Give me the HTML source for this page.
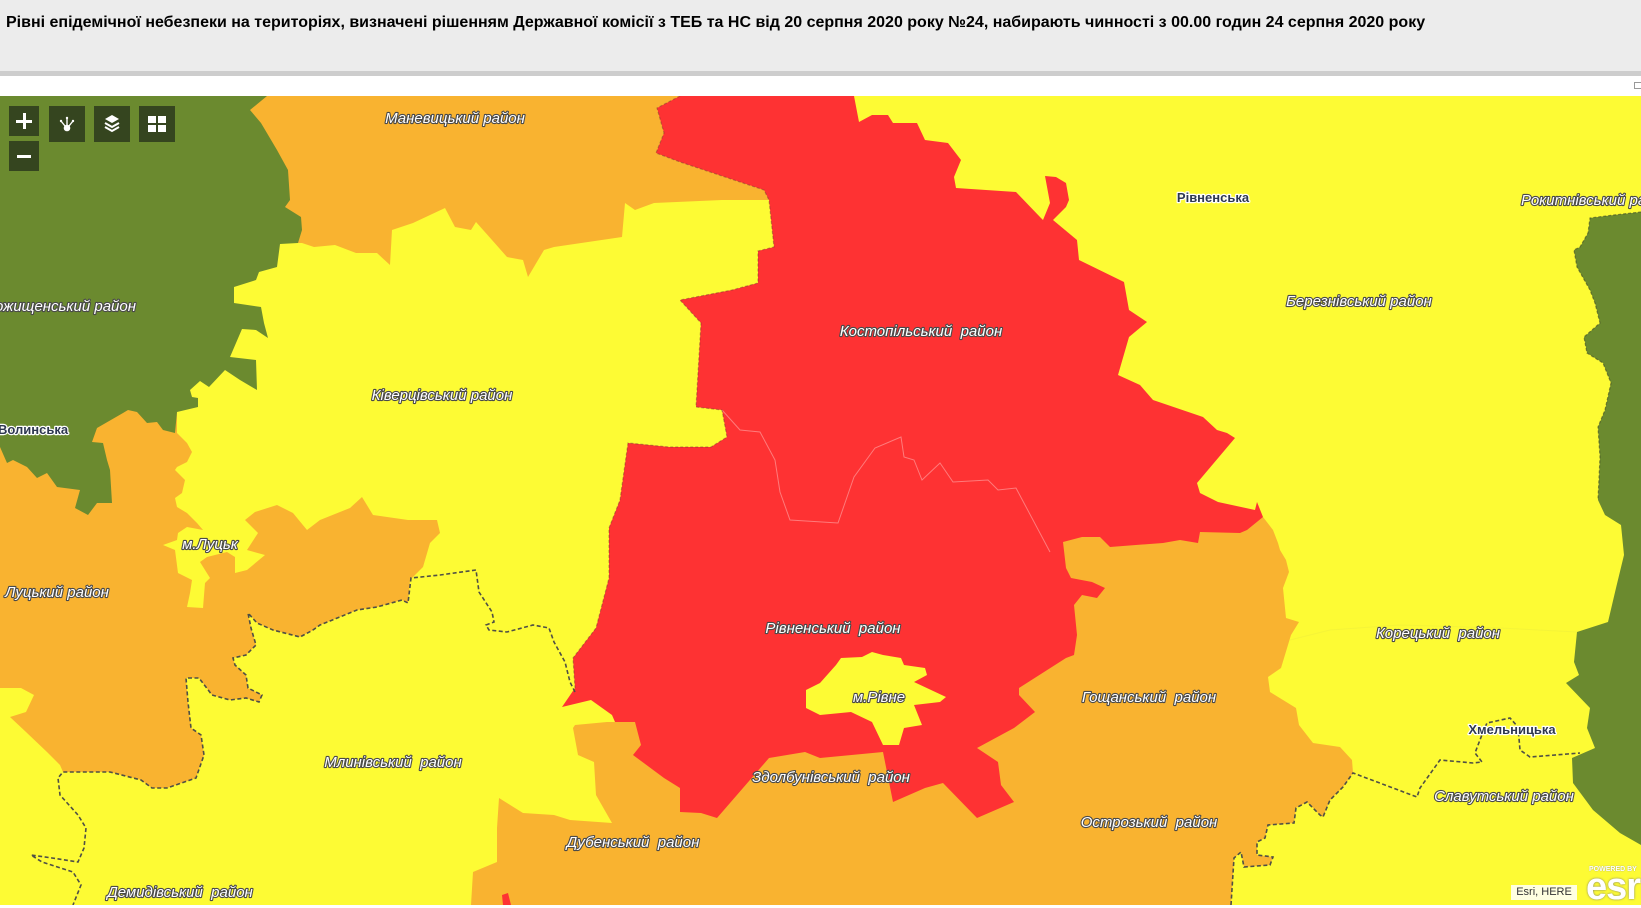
<!DOCTYPE html>
<html><head><meta charset="utf-8">
<style>
html,body{margin:0;padding:0;}
body{width:1641px;height:905px;position:relative;overflow:hidden;background:#fff;font-family:"Liberation Sans",Arial,sans-serif;}
#hdr{position:absolute;left:0;top:0;width:1641px;height:71px;background:#ececec;}
#hdrline{position:absolute;left:0;top:71px;width:1641px;height:5px;background:#cdcdcd;}
#title{position:absolute;left:6px;top:14px;font-size:16px;line-height:18px;font-weight:bold;color:#000;white-space:nowrap;}
#mapsvg{position:absolute;left:0;top:96px;}
.btn{position:absolute;background:#35451f;}
.lbl{font-family:"Liberation Sans",Arial,sans-serif;font-style:italic;font-size:15px;fill:#fff;stroke:#4a4a4a;stroke-width:2.2px;paint-order:stroke;stroke-linejoin:round;text-anchor:middle;white-space:pre;}
.obl{font-family:"Liberation Sans",Arial,sans-serif;font-weight:bold;font-size:13px;fill:#2e3850;stroke:#fff;stroke-width:2.4px;paint-order:stroke;stroke-linejoin:round;text-anchor:middle;}
</style></head><body>
<div id="hdr"></div>
<div id="hdrline"></div>
<div id="title">Рівні епідемічної небезпеки на територіях, визначені рішенням Державної комісії з ТЕБ та НС від 20 серпня 2020 року №24, набирають чинності з 00.00 годин 24 серпня 2020 року</div>
<div style="position:absolute;left:1634px;top:82px;width:7px;height:7px;border:1px solid #999;border-right:none;box-sizing:border-box;"></div>

<svg id="mapsvg" width="1641" height="809" viewBox="0 96 1641 809" xmlns="http://www.w3.org/2000/svg">
<rect x="0" y="96" width="1641" height="809" fill="#fdfb34"/>
<!-- orange top -->
<polygon fill="#f9b330" points="250,96 680,96 657,108 664,133 656,153 680,162 743,183 764,190 769,200 722,200 654,203 635,210 625,203 622,237 554,247 544,250 528,277 523,260 507,257 492,240 476,222 471,230 455,227 445,208 413,223 392,230 390,265 377,253 356,253 335,245 314,247 302,243 250,243"/>
<!-- orange Lutsk -->
<polygon fill="#f9b330" points="177,412 177,433 187,443 192,452 187,462 177,467 175,470 185,480 182,493 175,498 177,507 187,513 197,523 203,530 187,527 178,533 177,540 163,545 175,550 178,573 192,580 190,593 187,607 203,608 205,583 210,578 200,562 207,557 227,552 235,557 235,573 247,570 265,555 247,550 258,533 245,520 255,512 277,505 293,513 307,530 320,520 350,508 362,497 373,515 408,520 437,520 440,533 430,543 423,567 410,580 408,603 402,600 377,607 357,610 320,625 313,630 300,637 273,630 257,623 248,613 251,628 256,645 246,655 233,658 235,665 246,675 248,688 262,695 259,702 246,698 230,700 212,695 199,678 186,678 188,702 191,728 201,735 204,755 196,778 167,788 152,788 141,780 110,772 63,772 60,765 47,752 26,732 10,717 26,712 34,695 21,688 0,688 0,440 120,400 177,400"/>
<!-- orange lower -->
<polygon fill="#f9b330" points="575,725 573,728 578,755 594,762 596,795 612,823 570,820 554,815 523,813 499,798 497,828 497,862 473,872 471,905 1231,905 1234,858 1241,852 1244,867 1270,865 1273,857 1257,855 1257,842 1265,838 1268,825 1294,823 1296,808 1307,802 1320,815 1323,817 1330,800 1343,787 1353,773 1352,760 1340,747 1313,743 1299,725 1296,708 1270,692 1268,677 1281,668 1291,635 1299,622 1286,618 1283,588 1289,572 1286,560 1280,550 1278,543 1273,530 1263,517 1200,500 820,600 640,722 607,722"/>
<!-- green left -->
<polygon fill="#6b8a2f" points="0,96 267,96 250,110 261,123 277,150 288,170 290,200 285,207 301,217 302,230 298,243 280,244 277,267 259,272 256,280 234,287 234,303 261,307 264,323 268,338 256,330 242,329 230,357 256,360 257,390 240,380 225,370 209,387 200,381 190,390 192,397 198,398 198,407 177,412 175,433 163,430 157,422 147,423 137,412 128,410 123,413 97,428 92,442 103,443 107,460 110,470 112,503 97,503 88,515 75,508 80,490 57,487 47,473 37,478 27,467 13,460 7,463 0,447"/>
<!-- green right -->
<polygon fill="#6b8a2f" points="1641,212 1614,215 1590,218 1588,233 1580,247 1574,250 1577,267 1590,290 1595,303 1600,323 1584,337 1587,353 1603,363 1611,383 1605,410 1598,427 1600,457 1598,500 1605,515 1621,525 1624,555 1616,588 1608,622 1577,632 1574,662 1579,675 1566,683 1590,708 1587,728 1595,748 1572,758 1573,783 1593,810 1620,833 1641,845"/>
<!-- red -->
<polygon fill="#fe3233" points="680,96 657,108 664,133 656,153 680,162 743,183 764,190 769,200 774,247 758,251 758,283 732,290 680,300 701,323 696,407 722,410 727,437 711,447 669,447 628,443 620,500 609,528 609,578 596,628 573,658 575,688 562,707 591,700 612,715 615,722 635,722 641,745 633,755 664,778 680,788 680,812 701,813 717,818 743,788 769,758 805,752 820,758 883,752 893,802 925,788 943,783 977,818 1014,802 1001,785 998,762 977,748 1014,728 1035,712 1019,695 1019,688 1066,658 1074,655 1077,635 1074,605 1082,595 1097,598 1105,588 1092,582 1071,578 1066,568 1063,542 1082,537 1100,537 1110,547 1163,543 1180,540 1198,543 1200,532 1240,533 1247,530 1263,517 1257,502 1255,510 1218,502 1210,498 1200,493 1197,483 1235,438 1227,433 1217,430 1203,417 1153,400 1140,385 1118,375 1129,337 1147,322 1129,310 1124,282 1079,260 1077,240 1053,220 1066,207 1069,200 1066,183 1056,177 1045,176 1050,203 1043,220 1040,217 1016,192 956,188 954,177 961,160 948,143 925,140 917,123 893,123 888,115 872,115 859,122 854,96"/>
<polygon fill="#fe3233" points="502,895 508,893 511,905 503,905"/>
<!-- Rivne city -->
<polygon fill="#fdfb34" points="806,690 820,683 836,665 841,658 862,657 872,652 883,655 901,658 904,665 925,668 927,675 914,682 946,697 940,702 914,705 922,725 904,728 899,745 883,745 872,722 851,712 820,715 806,708"/>
<!-- faint internal lines -->
<polyline fill="none" stroke="#ff9a9a" stroke-width="1" opacity="0.7" points="722,410 740,430 760,432 775,460 780,492 790,520 838,523 846,500 854,477 875,448 901,437 904,457 914,460 922,480 940,463 953,482 988,480 998,490 1016,488 1050,552"/>
<polyline fill="none" stroke="#f2f23a" stroke-width="1" opacity="0.8" points="1290,640 1330,630 1400,625 1500,628 1577,632"/>
<!-- dashed oblast borders -->
<g fill="none" stroke="#4f4f45" stroke-width="1.6" stroke-dasharray="4,2.5">
<polyline points="575,692 570,682 565,662 554,642 549,628 533,625 507,632 489,630 486,625 494,622 492,612 479,592 476,570 440,575 411,578 408,603 402,600 377,607 357,610 320,625 313,630 300,637 273,630 257,623 248,613 251,628 256,645 246,655 233,658 235,665 246,675 248,688 262,695 259,702 246,698 230,700 212,695 199,678 186,678 188,702 191,728 201,735 204,755 196,778 167,788 152,788 141,780 110,772 63,772 58,778 60,795 78,815 86,828 84,848 78,862 52,858 31,855 42,862 73,872 81,885 73,905"/>
<polyline points="1231,905 1234,858 1241,852 1244,867 1270,865 1273,857 1257,855 1257,842 1265,838 1268,825 1294,823 1296,808 1307,802 1320,815 1323,817 1330,800 1343,787 1353,773 1385,785 1417,797 1420,788 1440,760 1473,763 1482,762 1475,753 1483,732 1487,723 1510,718 1518,727 1520,750 1530,757 1580,753"/>
</g>
<g fill="none" stroke="#6a3030" stroke-width="1.2" stroke-dasharray="3,2" opacity="0.4">
<polyline points="680,96 657,108 664,133 656,153 680,162 743,183 764,190 769,200 774,247 758,251 758,283 732,290 680,300 701,323 696,407 722,410 727,437 711,447 669,447 628,443 620,500 609,528 609,578 596,628 573,658 575,688"/>
</g>
<g fill="none" stroke="#3d4a25" stroke-width="1.2" stroke-dasharray="3,2" opacity="0.6">
<polyline points="1641,212 1614,215 1590,218 1588,233 1580,247 1574,250 1577,267 1590,290 1595,303 1600,323 1584,337 1587,353 1603,363 1611,383 1605,410 1598,427 1600,457 1598,500"/>
</g>
<!-- labels -->
<text class="lbl" x="455" y="123">Маневицький район</text>
<text class="lbl" x="136" y="311" style="text-anchor:end">Рожищенський район</text>
<text class="lbl" x="442" y="400">Ківерцівський район</text>
<text class="lbl" x="921" y="336">Костопільський  район</text>
<text class="lbl" x="1359" y="306">Березнівський район</text>
<text class="lbl" x="1521" y="205" style="text-anchor:start">Рокитнівський район</text>
<text class="lbl" x="210" y="549">м.Луцьк</text>
<text class="lbl" x="57" y="597">Луцький район</text>
<text class="lbl" x="833" y="633">Рівненський  район</text>
<text class="lbl" x="879" y="702">м.Рівне</text>
<text class="lbl" x="1438" y="638">Корецький  район</text>
<text class="lbl" x="1149" y="702">Гощанський  район</text>
<text class="lbl" x="1504" y="801">Славутський район</text>
<text class="lbl" x="1149" y="827">Острозький  район</text>
<text class="lbl" x="831" y="782">Здолбунівський  район</text>
<text class="lbl" x="393" y="767">Млинівський  район</text>
<text class="lbl" x="633" y="847">Дубенський  район</text>
<text class="lbl" x="180" y="897">Демидівський  район</text>
<text class="obl" x="-2" y="434" style="text-anchor:start">Волинська</text>
<text class="obl" x="1213" y="202">Рівненська</text>
<text class="obl" x="1512" y="734">Хмельницька</text>
</svg>

<!-- map buttons -->
<div class="btn" style="left:9px;top:106px;width:30px;height:30px;">
  <div style="position:absolute;left:7px;top:13.5px;width:16px;height:3px;background:#fff;"></div>
  <div style="position:absolute;left:13.5px;top:7px;width:3px;height:16px;background:#fff;"></div>
</div>
<div class="btn" style="left:9px;top:141px;width:30px;height:30px;">
  <div style="position:absolute;left:8px;top:13.5px;width:14px;height:3px;background:#fff;"></div>
</div>
<div class="btn" style="left:49px;top:106px;width:36px;height:36px;">
  <svg width="36" height="36" viewBox="0 0 36 36">
    <circle cx="18" cy="22" r="3.3" fill="#fff"/>
    <g stroke="#fff" stroke-width="1.4" fill="none">
      <line x1="18" y1="19" x2="18" y2="12"/><line x1="16" y1="20" x2="12" y2="15"/><line x1="20" y1="20" x2="24" y2="15"/>
    </g>
    <circle cx="18" cy="12" r="1.2" fill="#fff"/><circle cx="12" cy="15" r="1.2" fill="#fff"/><circle cx="24" cy="15" r="1.2" fill="#fff"/>
  </svg>
</div>
<div class="btn" style="left:94px;top:106px;width:36px;height:36px;">
  <svg width="36" height="36" viewBox="0 0 36 36">
    <polygon points="18,9 25,13 18,17 11,13" fill="#fff"/>
    <polyline points="11,17 18,21 25,17" fill="none" stroke="#fff" stroke-width="2"/>
    <polyline points="11,21 18,25 25,21" fill="none" stroke="#fff" stroke-width="2"/>
  </svg>
</div>
<div class="btn" style="left:139px;top:106px;width:36px;height:36px;">
  <div style="position:absolute;left:9px;top:10px;width:8px;height:7px;background:#fff;"></div>
  <div style="position:absolute;left:19px;top:10px;width:8px;height:7px;background:#fff;"></div>
  <div style="position:absolute;left:9px;top:19px;width:8px;height:7px;background:#fff;"></div>
  <div style="position:absolute;left:19px;top:19px;width:8px;height:7px;background:#fff;"></div>
</div>

<!-- attribution -->
<div style="position:absolute;left:1511px;top:885px;width:66px;height:15px;background:rgba(255,255,255,0.85);font-size:11px;line-height:15px;color:#333;text-align:center;white-space:nowrap;">Esri, HERE</div>
<div style="position:absolute;left:1589px;top:866px;font-size:7px;font-weight:bold;color:#fff;white-space:nowrap;line-height:8px;text-shadow:0 0 1px #888;">POWERED BY</div>
<div style="position:absolute;left:1586px;top:868px;font-size:38px;font-weight:bold;color:#fff;white-space:nowrap;line-height:38px;letter-spacing:-1px;text-shadow:0 0 2px #777;">esri</div>
</body></html>
